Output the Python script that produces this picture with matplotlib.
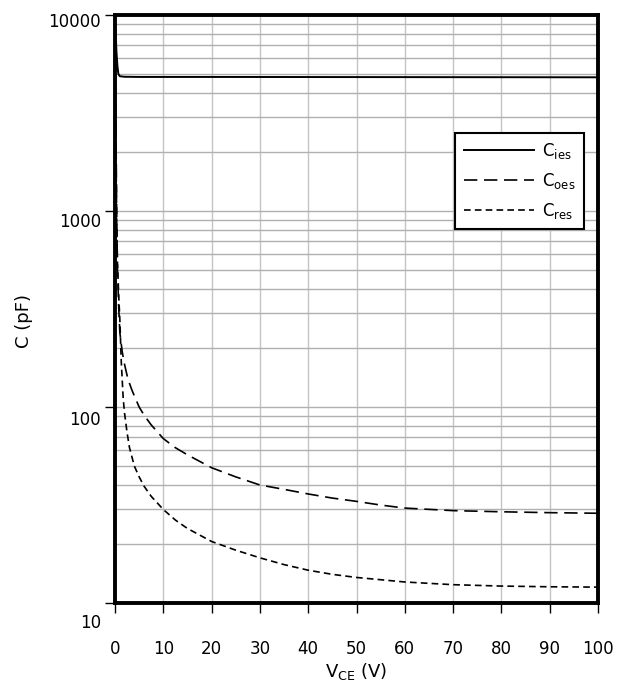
import matplotlib
matplotlib.use("Agg")
import matplotlib.pyplot as plt
import matplotlib.transforms as mtransforms
from matplotlib.ticker import FixedLocator, NullFormatter, LogLocator

plt.rcParams['font.family'] = ['DejaVu Sans']
plt.rcParams['mathtext.fontset'] = 'dejavusans'

# Data (V_CE in volts, capacitance in pF)
v_ies = [0, 0.15, 0.3, 0.5, 0.7, 1, 2, 5, 10, 20, 40, 60, 80, 100]
c_ies = [9500, 8000, 6500, 5500, 5000, 4870, 4840, 4830, 4830, 4830, 4825, 4820, 4815, 4810]

v_oes = [0, 0.1, 0.2, 0.35, 0.5, 0.75, 1, 1.5, 2, 2.5, 3, 3.5, 4, 5, 6, 7.5, 10, 12.5, 15, 20, 25,
         30, 35, 40, 45, 50, 55, 60, 70, 80, 90, 100]
c_oes = [9000, 5500, 2600, 1000, 520, 330, 240, 191, 164, 145, 132, 122, 114, 100, 91, 81, 69, 62,
         57, 49, 44, 40, 38, 36, 34.3, 33, 31.6, 30.5, 29.6, 29.2, 28.9, 28.7]

v_res = [0, 0.1, 0.2, 0.35, 0.5, 0.75, 1, 1.3, 1.7, 2, 2.5, 3, 4, 5, 6, 7.5, 10, 12.5, 15, 20,
         25, 30, 35, 40, 45, 50, 60, 70, 80, 90, 100]
c_res = [8000, 4500, 2000, 900, 550, 380, 280, 170, 110, 92, 74, 62, 50, 44, 39.5, 35, 30, 26.5,
         24, 20.6, 18.6, 17, 15.7, 14.7, 14.0, 13.5, 12.8, 12.4, 12.2, 12.1, 12.05]

labels = ['C$_\\mathrm{ies}$', 'C$_\\mathrm{oes}$', 'C$_\\mathrm{res}$']
x_ticks = [0, 10, 20, 30, 40, 50, 60, 70, 80, 90, 100]
y_ticks = [10, 100, 1000, 10000]
y_ticklabels = ['10', '100', '1000', '10000']

fig = plt.figure(figsize=(6.25, 6.86), dpi=100)
ax = fig.add_axes([115/625, 1-603/686, (598-115)/625, (603-15)/686])

ax.set_yscale('log')
ax.set_xlim(0, 100)
ax.set_ylim(10, 10000)

ax.plot(v_ies, c_ies, color='black', lw=1.4, solid_joinstyle='round', label=labels[0])
ax.plot(v_oes, c_oes, color='black', lw=1.2, linestyle=(0, (8, 4)), label=labels[1])
ax.plot(v_res, c_res, color='black', lw=1.2, linestyle=(0, (4, 2.5)), label=labels[2])

ax.set_xticks(x_ticks)
ax.set_xticklabels([str(t) for t in x_ticks])
ax.yaxis.set_major_locator(FixedLocator(y_ticks))
ax.set_yticklabels(y_ticklabels)
ax.yaxis.set_minor_locator(LogLocator(base=10, subs=range(2, 10)))
ax.yaxis.set_minor_formatter(NullFormatter())

ax.grid(True, which='major', axis='x', color='#c4c4c4', lw=1.0)
ax.grid(True, which='both', axis='y', color='#b0b0b0', lw=1.0)
ax.set_axisbelow(True)

ax.tick_params(axis='both', which='major', direction='out', length=7, width=1.0,
               labelsize=12, color='black')
ax.tick_params(axis='y', which='minor', length=0)
ax.tick_params(axis='x', which='major', pad=20)
ax.tick_params(axis='y', which='major', pad=3)

# shift y tick labels downward, as in the reference (pixels, bottom to top)
shifts_px = [18, 11, 9, 5]
for lab, sh in zip(ax.get_yticklabels(), shifts_px):
    off = mtransforms.ScaledTranslation(0, -sh/100, fig.dpi_scale_trans)
    lab.set_transform(lab.get_transform() + off)

for s in ax.spines.values():
    s.set_linewidth(2.8)
    s.set_color('black')

ax.set_xlabel('V$_\\mathrm{CE}$ (V)', fontsize=13, labelpad=2)
ax.set_ylabel('C (pF)', fontsize=13)
ax.yaxis.set_label_coords(-0.17, 0.48)

leg = ax.legend(loc='upper right', bbox_to_anchor=(0.971, 0.80), fontsize=12,
                frameon=True, fancybox=False, edgecolor='black', handlelength=4.2,
                handletextpad=0.5, borderpad=0.5, labelspacing=0.6, borderaxespad=0)
leg.get_frame().set_linewidth(1.5)
leg.get_frame().set_alpha(1)

fig.savefig('out.png', dpi=100)
